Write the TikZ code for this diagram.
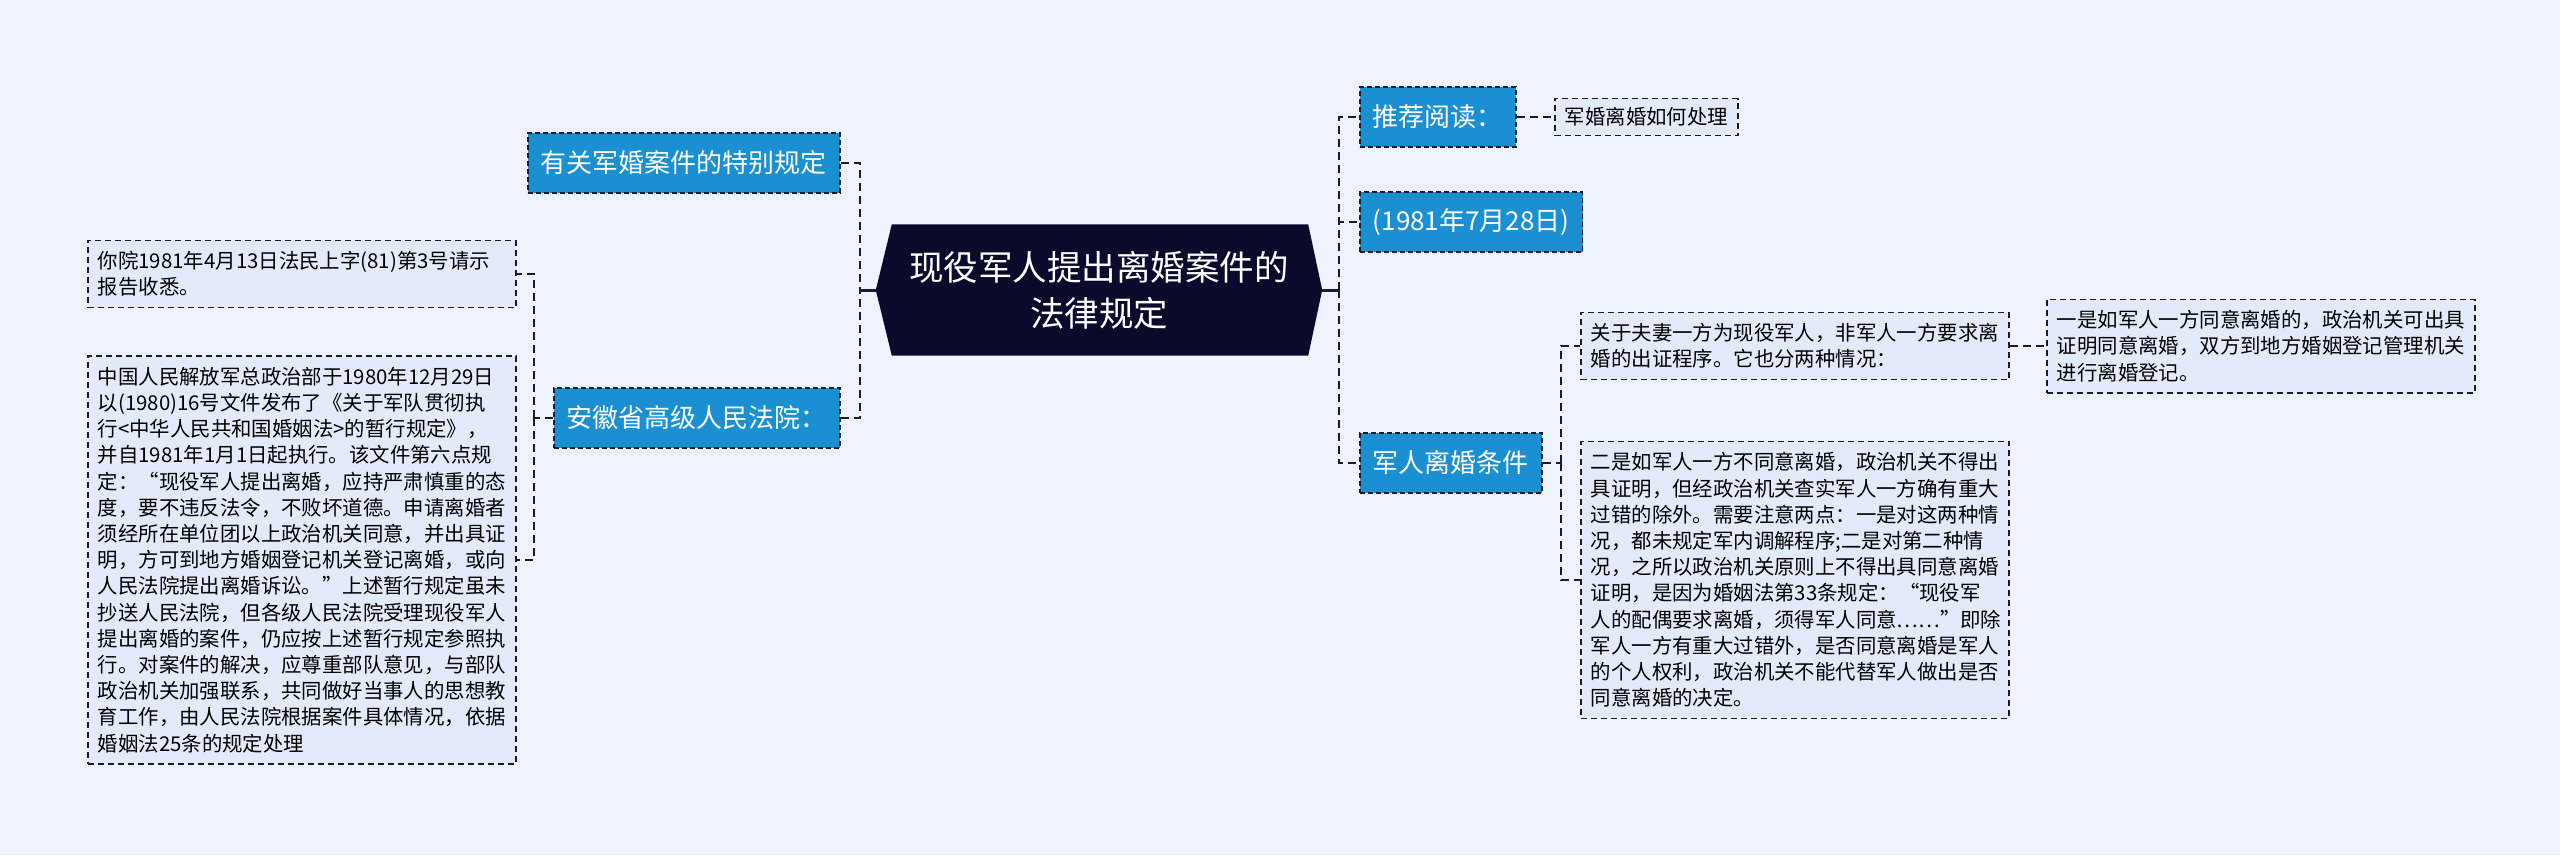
\documentclass[tikz,border=0pt]{standalone}
\usepackage{fontspec}
\newfontfamily\cjk{Noto Sans CJK SC}
\usetikzlibrary{positioning,calc,backgrounds}
\definecolor{bgblue}{HTML}{EEF3FE}
\definecolor{topicblue}{HTML}{1A90D3}
\definecolor{rootnavy}{HTML}{0B0A2C}
\definecolor{leaffill}{HTML}{E3EBFB}
\definecolor{edgeline}{HTML}{1B1B2B}

\begin{document}
\begin{tikzpicture}[x=1pt, y=-1pt, font=\cjk,
   root/.style={minimum width=446pt, minimum height=131pt, align=center, text=white,
                inner sep=0pt, font=\cjk\fontsize{34.5}{46}\selectfont},
   topic/.style={draw=edgeline, fill=topicblue, text=white, line width=1.8pt,
                 dash pattern=on 5pt off 3pt, minimum height=60pt, inner xsep=13pt,
                 anchor=west, font=\cjk\fontsize{26}{30}\selectfont},
   leaf/.style={draw=edgeline, fill=leaffill, line width=1.6pt, dash pattern=on 6pt off 4pt,
                align=left, text width=408pt, inner xsep=10pt, inner ysep=11pt,
                anchor=west, font=\cjk\fontsize{20.4}{26.2}\selectfont},
   tag/.style={leaf, text width=, align=center, inner ysep=9pt},
   link/.style={draw=edgeline, line width=2.2pt, dash pattern=on 8pt off 5pt},
   stub/.style={draw=edgeline, line width=3pt}]
  \begin{scope}[on background layer]
    \fill[bgblue] (0,0) rectangle (2560,855);
  \end{scope}
  \useasboundingbox (0,0) rectangle (2560,855);

  % root
  \node[root] (cen) at (1099,290) {现役军人提出离婚案件的\\法律规定};
  \begin{scope}[on background layer]
    \fill[rootnavy] (cen.west) -- ([xshift=16pt]cen.north west) -- ([xshift=-14pt]cen.north east)
      -- (cen.east) -- ([xshift=-14pt]cen.south east) -- ([xshift=16pt]cen.south west) -- cycle;
  \end{scope}

  % left side
  \node[topic] (sp) at (527,163) {有关军婚案件的特别规定};
  \node[topic] (ah) at (553,418) {安徽省高级人民法院：};
  \node[leaf]  (l1) at (87,274)  {你院1981年4月13日法民上字(81)第3号请示\\报告收悉。};
  \node[leaf]  (l2) at (87,560)  {中国人民解放军总政治部于1980年12月29日\\
    以(1980)16号文件发布了《关于军队贯彻执\\
    行<中华人民共和国婚姻法>的暂行规定》，\\
    并自1981年1月1日起执行。该文件第六点规\\
    定：“现役军人提出离婚，应持严肃慎重的态\\
    度，要不违反法令，不败坏道德。申请离婚者\\
    须经所在单位团以上政治机关同意，并出具证\\
    明，方可到地方婚姻登记机关登记离婚，或向\\
    人民法院提出离婚诉讼。”上述暂行规定虽未\\
    抄送人民法院，但各级人民法院受理现役军人\\
    提出离婚的案件，仍应按上述暂行规定参照执\\
    行。对案件的解决，应尊重部队意见，与部队\\
    政治机关加强联系，共同做好当事人的思想教\\
    育工作，由人民法院根据案件具体情况，依据\\
    婚姻法25条的规定处理};

  % right side
  \node[topic] (rd)  at (1359,117) {推荐阅读：};
  \node[tag]   (rdl) at (1554,117) {军婚离婚如何处理};
  \node[topic] (dt)  at (1359,222) {(1981年7月28日)};
  \node[topic] (jt)  at (1359,463) {军人离婚条件};
  \node[leaf]  (r1)  at (1580,346) {关于夫妻一方为现役军人，非军人一方要求离\\
    婚的出证程序。它也分两种情况：};
  \node[leaf]  (r1a) at (2046,346) {一是如军人一方同意离婚的，政治机关可出具\\
    证明同意离婚，双方到地方婚姻登记管理机关\\
    进行离婚登记。};
  \node[leaf]  (r2)  at (1580,580) {二是如军人一方不同意离婚，政治机关不得出\\
    具证明，但经政治机关查实军人一方确有重大\\
    过错的除外。需要注意两点：一是对这两种情\\
    况，都未规定军内调解程序;二是对第二种情\\
    况，之所以政治机关原则上不得出具同意离婚\\
    证明，是因为婚姻法第33条规定：“现役军\\
    人的配偶要求离婚，须得军人同意……”即除\\
    军人一方有重大过错外，是否同意离婚是军人\\
    的个人权利，政治机关不能代替军人做出是否\\
    同意离婚的决定。};

  % joints
  \coordinate (tl) at (860,290);
  \coordinate (ta) at (534,418);
  \coordinate (tr) at (1339,290);
  \coordinate (tj) at (1561,463);

  % connectors
  \draw[stub] (cen.west) -- (tl);
  \draw[link] (sp.east) -| (tl);
  \draw[link] (ah.east) -| (tl);
  \draw[link] (ah.west) -- (ta);
  \draw[link] (ta) |- (l1.east);
  \draw[link] (ta) |- (l2.east);
  \draw[stub] (cen.east) -- (tr);
  \draw[link] (tr) |- (rd.west);
  \draw[link] (tr) |- (dt.west);
  \draw[link] (tr) |- (jt.west);
  \draw[link] (rd.east) -- (rdl.west);
  \draw[link] (jt.east) -- (tj);
  \draw[link] (tj) |- (r1.west);
  \draw[link] (tj) |- (r2.west);
  \draw[link] (r1.east) -- (r1a.west);
\end{tikzpicture}
\end{document}
